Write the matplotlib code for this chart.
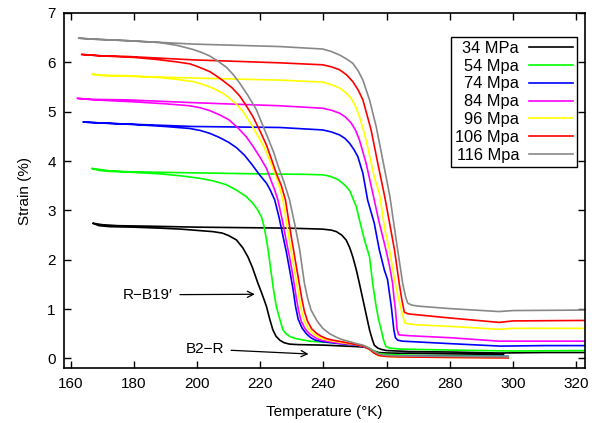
## Strain vs temperature loops for several stress levels ##

import matplotlib
matplotlib.use("Agg")
import matplotlib.pyplot as plt

plt.rcParams['font.family'] = ['Liberation Sans', 'DejaVu Sans']
plt.rcParams['font.size'] = 11

labels = ["34 MPa", "54 Mpa", "74 Mpa", "84 Mpa", "96 Mpa", "106 Mpa", "116 Mpa"]
colors = ["black", "#00ff00", "#0000ff", "#ff00ff", "#ffff00", "#ff0000", "#888888"]

# each loop: cooling from ~298 K down to the left end, then heating up to 323 K
t_34 = [297, 285, 270, 260, 257.5, 256, 254.5, 253, 250.4, 240, 232, 229.3, 227.5, 226.2, 225, 224, 223, 222, 220.5, 219.3, 217.5, 216.1,
        214.5, 212.5, 210, 208, 205, 200.9, 195, 188.3, 180, 172.5, 169, 167,
        170, 175, 185, 200, 215, 229.3, 239.8, 242.5, 244.1, 245.8, 247.2, 248.3, 249.3, 250.4, 251.4, 253, 254.6, 255.4, 256.1, 257.2,
        258.5, 260, 267, 280, 295.6, 310, 323]
s_34 = [0.08, 0.09, 0.10, 0.11, 0.12, 0.15, 0.20, 0.23, 0.24, 0.27, 0.28, 0.29, 0.32, 0.37, 0.45, 0.58, 0.80, 1.05, 1.32, 1.52, 1.85, 2.06,
        2.24, 2.40, 2.49, 2.54, 2.57, 2.59, 2.62, 2.64, 2.66, 2.67, 2.69, 2.74,
        2.71, 2.69, 2.68, 2.66, 2.65, 2.64, 2.62, 2.60, 2.57, 2.50, 2.40, 2.25, 2.06, 1.80, 1.52, 1.05, 0.58, 0.40, 0.27, 0.21,
        0.18, 0.16, 0.14, 0.13, 0.11, 0.12, 0.12]

t_54 = [298.5, 285, 270, 260, 257.5, 256, 254.5, 253, 250.4, 240, 235.6, 231.4, 229.5, 228.2, 227.2, 226.4, 225.1, 224.2, 223.5, 222.5, 222,
        221.2, 220.4, 219, 217.7, 215.6, 212.5, 209.3, 205, 200.9, 195, 188.3, 180, 172.5, 166.7,
        169, 172.5, 190, 200, 219.8, 235, 239.8, 241.5, 243, 244.7, 246.1, 247.3, 248.3, 249.5, 250.4, 251.4, 253, 254.6, 255.6, 256.7,
        257.5, 258.3, 259, 259.8, 261, 264.2, 280, 300, 323]
s_54 = [0.04, 0.05, 0.06, 0.08, 0.10, 0.15, 0.21, 0.25, 0.29, 0.33, 0.35, 0.40, 0.44, 0.50, 0.58, 0.75, 1.05, 1.40, 1.73, 2.20, 2.40,
        2.68, 2.87, 3.03, 3.14, 3.28, 3.41, 3.52, 3.60, 3.65, 3.70, 3.74, 3.77, 3.80, 3.85,
        3.81, 3.79, 3.77, 3.76, 3.74, 3.73, 3.72, 3.70, 3.67, 3.62, 3.55, 3.48, 3.40, 3.22, 3.08, 2.81, 2.40, 2.06, 1.52, 1.05,
        0.78, 0.58, 0.38, 0.24, 0.21, 0.19, 0.17, 0.15, 0.16]

t_74 = [298.5, 280, 265, 260, 257.5, 256, 254.5, 253, 250.4, 245, 239.8, 237.5, 236, 234.6, 233.2, 232, 231.2, 230.4, 229.3, 228.3, 227.3,
        226, 224.6, 223.2, 222, 219.8, 217.5, 215, 212.5, 210, 207, 204.1, 201, 197.7, 190, 180, 170, 164,
        170, 177.7, 198.8, 226.2, 239.8, 242.5, 245.1, 246.8, 248.3, 249.7, 250.9, 252.5, 254, 256.1, 257.7, 259.3, 260.3, 261.5,
        262.3, 262.8, 263.5, 265, 268, 280, 296, 310, 323]
s_74 = [0.04, 0.04, 0.05, 0.05, 0.07, 0.12, 0.19, 0.23, 0.27, 0.30, 0.34, 0.37, 0.42, 0.50, 0.62, 0.80, 1.05, 1.40, 1.80, 2.15, 2.45,
        2.85, 3.21, 3.41, 3.55, 3.72, 3.92, 4.12, 4.27, 4.38, 4.48, 4.56, 4.62, 4.66, 4.70, 4.74, 4.77, 4.79,
        4.77, 4.75, 4.70, 4.68, 4.63, 4.59, 4.53, 4.46, 4.36, 4.23, 4.09, 3.75, 3.21, 2.74, 2.20, 1.79, 1.60, 1.05,
        0.58, 0.42, 0.37, 0.35, 0.34, 0.30, 0.25, 0.26, 0.26]

t_84 = [298.5, 280, 265, 260, 257.5, 256, 254.5, 253, 250.4, 245, 241.9, 239.5, 238, 236.5, 235.6, 234.2, 233, 232.2, 231.5, 230.2, 229.2,
        228.2, 227, 225.6, 224.6, 223, 222, 219.8, 217.7, 215.6, 213, 210, 207, 204.1, 201, 197.7, 190, 180, 167.2, 162.1,
        167, 177.7, 200, 226.2, 239.8, 242.5, 245.1, 247, 248.8, 250.2, 251.4, 253.5, 255.8, 257.5, 259.8, 261, 261.9, 262.4,
        262.8, 263.3, 263.8, 265, 267.2, 280, 295.6, 310, 323]
s_84 = [0.03, 0.03, 0.04, 0.05, 0.07, 0.12, 0.20, 0.24, 0.28, 0.31, 0.34, 0.37, 0.40, 0.46, 0.50, 0.60, 0.75, 0.95, 1.20, 1.73, 2.08,
        2.40, 2.80, 3.21, 3.41, 3.68, 3.85, 4.09, 4.30, 4.49, 4.67, 4.84, 4.94, 5.02, 5.08, 5.12, 5.16, 5.20, 5.24, 5.27,
        5.25, 5.24, 5.18, 5.12, 5.07, 5.03, 4.97, 4.89, 4.77, 4.62, 4.43, 3.96, 3.30, 2.80, 2.20, 1.85, 1.52, 1.20,
        1.00, 0.60, 0.48, 0.47, 0.46, 0.42, 0.35, 0.35, 0.35]

t_96 = [298.5, 280, 265, 260, 257.5, 256, 254.5, 253, 250.4, 247, 244.1, 241.5, 239.5, 238, 236.8, 235.3, 234, 233.1, 232.4, 231, 230,
        229.2, 228.2, 227.2, 226.2, 225.1, 223, 222, 220.5, 218.8, 216.8, 214.6, 212.5, 210.4, 208.3, 206.2, 204.1, 201.5, 198.8,
        193, 188.3, 177.7, 170, 166.7,
        170, 177.7, 200, 226.2, 239.8, 242.5, 245.1, 247, 248.8, 250.2, 251.4, 252.7, 254, 256.1, 257.7, 259.5, 260.9, 262.5,
        263.5, 264.8, 265.8, 267, 270, 280, 295.6, 300, 323]
s_96 = [0.02, 0.02, 0.03, 0.04, 0.06, 0.11, 0.19, 0.24, 0.28, 0.31, 0.34, 0.37, 0.40, 0.45, 0.50, 0.60, 0.75, 0.95, 1.20, 1.73, 2.10,
        2.40, 2.80, 3.21, 3.45, 3.68, 4.02, 4.18, 4.37, 4.56, 4.78, 5.00, 5.15, 5.27, 5.37, 5.44, 5.50, 5.56, 5.61,
        5.66, 5.69, 5.73, 5.74, 5.76,
        5.73, 5.72, 5.68, 5.64, 5.60, 5.55, 5.48, 5.39, 5.27, 5.10, 4.90, 4.62, 4.29, 3.68, 3.35, 2.60, 2.20, 1.60,
        1.30, 0.95, 0.72, 0.70, 0.68, 0.65, 0.59, 0.61, 0.61]

t_106 = [298.5, 280, 265, 260, 257.5, 256, 254.5, 253, 250.4, 248, 245.7, 243, 241, 239.3, 238, 236.3, 235, 234, 233.2, 231.8, 230.8,
         230, 229, 228, 226.7, 225.1, 223.5, 222, 220, 217.7, 215.5, 213.5, 211, 208.2, 206, 204.1, 201.9, 199.5, 197.7, 193.5,
         187, 180, 170, 163.5,
         170, 177.7, 198.8, 226.2, 239.8, 242.5, 245.1, 247.3, 249.3, 251, 252.5, 255.1, 257.2, 259.5, 262.5, 264, 264.8, 265.6,
         266.5, 267.2, 280, 295.6, 300, 323]
s_106 = [0.01, 0.02, 0.03, 0.04, 0.06, 0.11, 0.19, 0.24, 0.28, 0.31, 0.34, 0.37, 0.40, 0.45, 0.50, 0.60, 0.75, 0.95, 1.20, 1.73, 2.10,
         2.40, 2.80, 3.21, 3.50, 3.75, 4.05, 4.32, 4.60, 4.90, 5.13, 5.32, 5.49, 5.63, 5.73, 5.81, 5.87, 5.93, 5.97, 6.01,
         6.06, 6.10, 6.13, 6.16,
         6.13, 6.12, 6.05, 5.99, 5.95, 5.91, 5.85, 5.75, 5.61, 5.44, 5.24, 4.63, 3.96, 3.25, 2.20, 1.52, 1.20, 0.94,
         0.91, 0.90, 0.82, 0.73, 0.76, 0.77]

t_116 = [298.5, 280, 265, 260, 257.5, 256, 254.5, 252.5, 250.5, 248.3, 246, 244.1, 242, 239.8, 238, 236.1, 235, 234, 232.5, 231, 229.3,
         227.5, 225.7, 224.3, 222.5, 220.5, 218.8, 216, 213.5, 211.5, 209.3, 206.5, 204, 201.5, 198.8, 194, 188.3, 177.7, 167.2, 162.5,
         167, 177.7, 198.8, 226.2, 239.8, 242.5, 245.1, 247.3, 249.3, 251, 252.5, 254.6, 256.7, 258.8, 261, 263.5, 265.1, 266,
         266.7, 268, 270, 280, 295.6, 300, 323]
s_116 = [0.03, 0.04, 0.05, 0.06, 0.09, 0.14, 0.21, 0.27, 0.30, 0.34, 0.38, 0.43, 0.50, 0.61, 0.76, 0.98, 1.22, 1.52, 2.20, 2.70, 3.21,
         3.58, 3.89, 4.17, 4.46, 4.77, 5.04, 5.34, 5.58, 5.75, 5.90, 6.03, 6.13, 6.20, 6.26, 6.34, 6.40, 6.44, 6.47, 6.49,
         6.47, 6.44, 6.37, 6.32, 6.27, 6.22, 6.15, 6.07, 5.98, 5.83, 5.64, 5.24, 4.70, 4.02, 3.30, 2.20, 1.52, 1.25,
         1.12, 1.08, 1.06, 1.01, 0.95, 0.97, 0.98]

temps = [t_34, t_54, t_74, t_84, t_96, t_106, t_116]
strains = [s_34, s_54, s_74, s_84, s_96, s_106, s_116]

fig = plt.figure(figsize=(6.02, 4.23), dpi=100)
ax = fig.add_axes([64/602, 1 - 368.3/423, 521/602, 355.3/423])

for t, s, lab, c in zip(temps, strains, labels, colors):
    ax.plot(t, s, color=c, lw=1.2, label=lab, solid_joinstyle='round')

ax.set_xlim(157.9, 322.8)
ax.set_ylim(-0.2, 7)
ax.set_xticks(range(160, 321, 20))
ax.set_yticks(range(0, 8))
ax.tick_params(direction='in', top=True, right=True, length=5, width=1, pad=6)
for sp in ax.spines.values():
    sp.set_linewidth(1.2)

ax.set_xlabel("Temperature (°K)", labelpad=10)
ax.set_ylabel("Strain (%)", labelpad=11)

ax.annotate("R\u2212B19\u2032", xy=(218.3, 1.30), xytext=(184.5, 1.29),
            ha='center', va='center',
            arrowprops=dict(arrowstyle='->', lw=0.9, color='black', shrinkA=3, shrinkB=0))
ax.annotate("B2\u2212R", xy=(235.3, 0.09), xytext=(202.5, 0.19),
            ha='center', va='center',
            arrowprops=dict(arrowstyle='->', lw=0.9, color='black', shrinkA=3, shrinkB=0))

leg = ax.legend(loc='upper right', bbox_to_anchor=(0.985, 0.933), markerfirst=False,
                fancybox=False, edgecolor='black', framealpha=1, borderaxespad=0,
                handlelength=2.7, handletextpad=0.6, labelspacing=0.17, borderpad=0.25,
                fontsize=11.8)
leg.get_frame().set_linewidth(1.0)

fig.savefig("out.png", dpi=100)
